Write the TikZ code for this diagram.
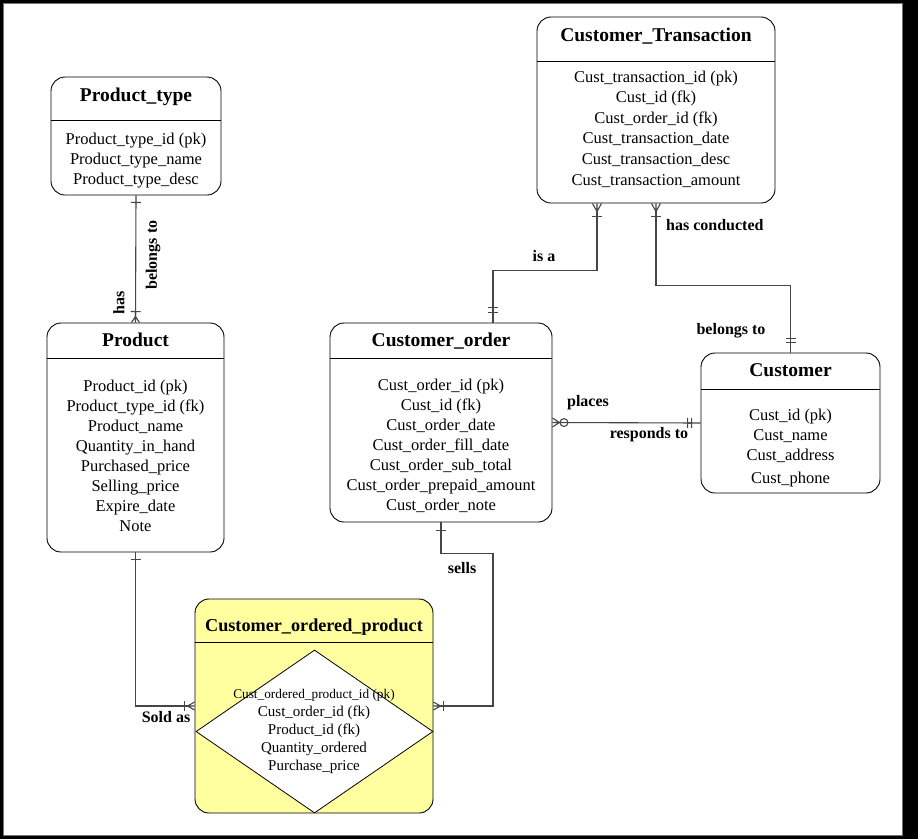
\documentclass[tikz,border=0pt]{standalone}
\usepackage{fontspec}
\setmainfont{Liberation Serif}
\usetikzlibrary{arrows.meta, shapes.geometric, positioning}
\definecolor{copyellow}{RGB}{255,255,160}
\definecolor{linegray}{RGB}{70,70,70}

% bar with a short stem (one)
\pgfdeclarearrow{
  name = ERbar,
  parameters = {\the\pgfarrowlength,\the\pgfarrowwidth},
  setup code = {
    \pgfarrowssettipend{0pt}
    \pgfarrowssetlineend{-\pgfarrowlength}
    \pgfarrowssetvisualbackend{-\pgfarrowlength}
    \pgfarrowssetbackend{-\pgfarrowlength}
    \pgfarrowshullpoint{0pt}{0pt}
    \pgfarrowshullpoint{-\pgfarrowlength}{.5\pgfarrowwidth}
    \pgfarrowshullpoint{-\pgfarrowlength}{-.5\pgfarrowwidth}
    \pgfarrowssavethe\pgfarrowlength
    \pgfarrowssavethe\pgfarrowwidth
  },
  drawing code = {
    \pgfpathmoveto{\pgfpointorigin}
    \pgfpathlineto{\pgfqpoint{-\pgfarrowlength}{0pt}}
    \pgfpathmoveto{\pgfqpoint{-\pgfarrowlength}{.5\pgfarrowwidth}}
    \pgfpathlineto{\pgfqpoint{-\pgfarrowlength}{-.5\pgfarrowwidth}}
    \pgfusepathqstroke
  },
  defaults = {length=6pt, width=10pt}
}

% crow's foot (many)
\pgfdeclarearrow{
  name = Crow,
  parameters = {\the\pgfarrowlength,\the\pgfarrowwidth},
  setup code = {
    \pgfarrowssettipend{0pt}
    \pgfarrowssetlineend{-\pgfarrowlength}
    \pgfarrowssetvisualbackend{-\pgfarrowlength}
    \pgfarrowssetbackend{-\pgfarrowlength}
    \pgfarrowshullpoint{0pt}{.5\pgfarrowwidth}
    \pgfarrowshullpoint{0pt}{-.5\pgfarrowwidth}
    \pgfarrowshullpoint{-\pgfarrowlength}{0pt}
    \pgfarrowssavethe\pgfarrowlength
    \pgfarrowssavethe\pgfarrowwidth
  },
  drawing code = {
    \pgfpathmoveto{\pgfqpoint{0pt}{.5\pgfarrowwidth}}
    \pgfpathlineto{\pgfqpoint{-\pgfarrowlength}{0pt}}
    \pgfpathlineto{\pgfqpoint{0pt}{-.5\pgfarrowwidth}}
    \pgfpathmoveto{\pgfpointorigin}
    \pgfpathlineto{\pgfqpoint{-\pgfarrowlength}{0pt}}
    \pgfusepathqstroke
  },
  defaults = {length=8pt, width=9pt}
}

\tikzset{
  entity/.style={draw=black, line width=0.9pt, rounded corners=14pt, fill=white},
  etitle/.style={font=\fontsize{19.5}{22}\selectfont\bfseries, inner sep=0pt},
  eattr/.style={align=center, inner sep=0pt, font=\fontsize{16.5}{20}\selectfont},
  rel/.style={draw=linegray, line width=1.1pt},
  rlabel/.style={font=\fontsize{16}{18}\selectfont\bfseries, inner sep=0pt},
}

\begin{document}
\begin{tikzpicture}[x=1pt, y=-1pt]
% frame
\fill[black] (0,0) rectangle (918,839);
\filldraw[fill=white, draw=black!55, line width=1pt] (3,3) rectangle (902,835);

% Product_type
\node[entity, minimum width=170, minimum height=118] (ptype) at (136,136) {};
\node[etitle] (ptype-t) at (136,97) {Product\_type};
\draw[line width=0.9pt] (ptype.north west) ++(0,44) -- ++(170,0);
\node[eattr] (ptype-a) at (136,161) {Product\_type\_id (pk)\\Product\_type\_name\\Product\_type\_desc};

% Customer_Transaction
\node[entity, minimum width=238, minimum height=186] (ctrans) at (656,110) {};
\node[etitle] (ctrans-t) at (656,36) {Customer\_Transaction};
\draw[line width=0.9pt] (ctrans.north west) ++(0,45) -- ++(238,0);
\node[eattr, font=\fontsize{16.5}{20.6}\selectfont] (ctrans-a) at (656,129)
  {Cust\_transaction\_id (pk)\\Cust\_id (fk)\\Cust\_order\_id (fk)\\Cust\_transaction\_date\\Cust\_transaction\_desc\\Cust\_transaction\_amount};

% Product
\node[entity, minimum width=177, minimum height=229] (product) at (135.5,437.5) {};
\node[etitle] (product-t) at (135.5,340) {Product};
\draw[line width=0.9pt] (product.north west) ++(0,36) -- ++(177,0);
\node[eattr] (product-a) at (135.5,456)
  {Product\_id (pk)\\Product\_type\_id (fk)\\Product\_name\\Quantity\_in\_hand\\Purchased\_price\\Selling\_price\\Expire\_date\\Note};

% Customer_order
\node[entity, minimum width=222, minimum height=199] (corder) at (441,422.5) {};
\node[etitle] (corder-t) at (441,341) {Customer\_order};
\draw[line width=0.9pt] (corder.north west) ++(0,36) -- ++(222,0);
\node[eattr] (corder-a) at (441,446)
  {Cust\_order\_id (pk)\\Cust\_id (fk)\\Cust\_order\_date\\Cust\_order\_fill\_date\\Cust\_order\_sub\_total\\Cust\_order\_prepaid\_amount\\Cust\_order\_note};

% Customer
\node[entity, minimum width=179, minimum height=140] (customer) at (790.5,423) {};
\node[etitle] (customer-t) at (790.5,370) {Customer};
\draw[line width=0.9pt] (customer.north west) ++(0,37) -- ++(179,0);
\node[eattr] (customer-a) at (790.5,448)
  {Cust\_id (pk)\\Cust\_name\\Cust\_address\\[3pt]Cust\_phone};

% Customer_ordered_product
\node[entity, fill=copyellow, minimum width=238, minimum height=214] (coprod) at (314,706) {};
\node[etitle, font=\fontsize{18.2}{22}\selectfont\bfseries] (coprod-t) at (314,627) {Customer\_ordered\_product};
\draw[line width=0.9pt] (coprod.north west) ++(0,44) -- ++(238,0);
\node[diamond, draw=black, fill=white, line width=0.8pt, inner sep=0pt,
  minimum width=237, minimum height=163] (coprod-d) at (314.5,731.5) {};
\node[eattr, font=\fontsize{15}{17.8}\selectfont] (coprod-a) at (314,731.5)
  {{\fontsize{13.3}{15}\selectfont Cust\_ordered\_product\_id (pk)}\\Cust\_order\_id (fk)\\Product\_id (fk)\\Quantity\_ordered\\Purchase\_price};

% Relationships
\draw[rel, {ERbar[length=7pt]}-{ERbar[length=5pt] Crow[length=6pt,width=8pt]}] (ptype.south) -- (product.north);
\draw[rel, {Crow[length=8pt,width=9pt] ERbar[length=5pt]}-{ERbar[length=5pt] ERbar[length=10pt]}]
  ([xshift=-59]ctrans.south) -- ++(0,67) -| ([xshift=52]corder.north);
\draw[rel, {Crow[length=8pt,width=9pt] ERbar[length=5pt]}-{ERbar[length=4pt] ERbar[length=10pt]}]
  (ctrans.south) -- ++(0,82) -| (customer.north);
\draw[rel, {Crow[length=7pt,width=9pt] Circle[open,length=9pt,width=9pt]}-{ERbar[length=4pt] ERbar[length=9pt]}]
  (corder.east) -- (customer.west);
\draw[rel, {ERbar[length=7pt]}-{ERbar[length=3pt] Crow[length=7pt,width=8pt]}] (product.south) |- (coprod.west);
\draw[rel, {ERbar[length=8pt]}-{ERbar[length=3pt] Crow[length=7pt,width=8pt]}]
  (corder.south) -- ++(0,31) -- ++(52,0) |- (coprod.east);

% Labels
\node[rlabel, rotate=90] (l-belongs1) at (153,255) {belongs to};
\node[rlabel, rotate=90] (l-has) at (119,303) {has};
\node[rlabel] (l-isa) at (544,256) {is a};
\node[rlabel, anchor=west] (l-conducted) at (666,225) {has conducted};
\node[rlabel] (l-belongs2) at (731,331) {belongs to};
\node[rlabel] (l-places) at (588,403) {places};
\node[rlabel] (l-responds) at (649,435) {responds to};
\node[rlabel] (l-sold) at (166,717) {Sold as};
\node[rlabel] (l-sells) at (462,568) {sells};
\end{tikzpicture}
\end{document}
